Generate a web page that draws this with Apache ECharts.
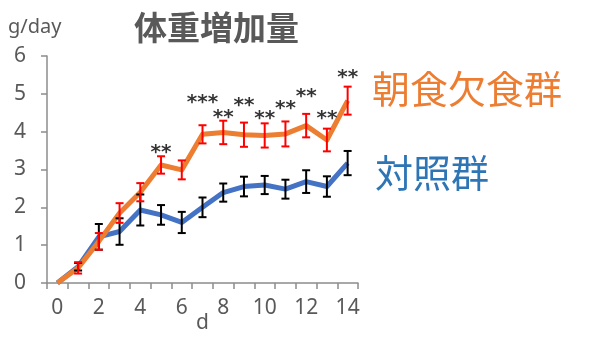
<!DOCTYPE html>
<html><head><meta charset="utf-8">
<script src="https://cdn.jsdelivr.net/npm/echarts@6/dist/echarts.min.js"></script>
<style>html,body{margin:0;padding:0;background:#fff}#c{width:590px;height:356px}</style>
</head><body><div id="c"></div>
<script>
const days = ['0','1','2','3','4','5','6','7','8','9','10','11','12','13','14'];
const skipMean = [0, 0.40, 1.10, 1.85, 2.40, 3.12, 2.99, 3.93, 3.98, 3.92, 3.90, 3.94, 4.16, 3.78, 4.82];
const skipErr  = [0, 0.15, 0.22, 0.26, 0.24, 0.23, 0.25, 0.24, 0.31, 0.32, 0.32, 0.33, 0.31, 0.30, 0.37];
const ctrlMean = [0, 0.43, 1.22, 1.36, 1.93, 1.80, 1.60, 2.00, 2.39, 2.55, 2.59, 2.48, 2.68, 2.55, 3.17];
const ctrlErr  = [0, 0.10, 0.34, 0.35, 0.41, 0.26, 0.28, 0.26, 0.24, 0.26, 0.24, 0.25, 0.30, 0.27, 0.32];
const starText = ['', '', '', '', '', '**', '', '***', '**', '**', '**', '**', '**', '**', '**'];
const starY    = [0, 0, 0, 0, 0, 3.57, 0, 4.89, 4.50, 4.81, 4.47, 4.74, 5.05, 4.47, 5.56];
const yTicks = [0, 1, 2, 3, 4, 5, 6];
const titleText = '体重増加量';
const yUnit = 'g/day';
const skipName = '朝食欠食群';
const ctrlName = '対照群';

const chart = echarts.init(document.getElementById('c'));
const axisGray = '#8c8c8c';
const textGray = '#595959';
const font = '"Noto Sans", "Noto Sans CJK JP", sans-serif';

function errData(mean, err) {
  return mean.map((m, i) => [i, m - err[i], m + err[i]]).filter(d => d[2] - d[1] > 0);
}
function errSeries(mean, err, color) {
  return {
    type: 'custom',
    z: 5,
    data: errData(mean, err),
    renderItem: function (params, api) {
      const x = api.value(0);
      const lo = api.coord([x, api.value(1)]);
      const hi = api.coord([x, api.value(2)]);
      const w = 4;
      const st = { stroke: color, lineWidth: 2 };
      return { type: 'group', children: [
        { type: 'line', shape: { x1: lo[0], y1: lo[1], x2: hi[0], y2: hi[1] }, style: st },
        { type: 'line', shape: { x1: lo[0] - w, y1: lo[1], x2: lo[0] + w, y2: lo[1] }, style: st },
        { type: 'line', shape: { x1: hi[0] - w, y1: hi[1], x2: hi[0] + w, y2: hi[1] }, style: st }
      ]};
    }
  };
}

const starData = [];
starText.forEach((t, i) => { if (t) starData.push({ value: [i, starY[i]], name: t }); });

chart.setOption({
  animation: false,
  backgroundColor: '#fff',
  grid: { left: 47, right: 232, top: 56, bottom: 73 },
  xAxis: {
    type: 'category',
    data: days,
    boundaryGap: true,
    name: 'd',
    nameLocation: 'middle',
    nameGap: 30,
    nameMoveOverlap: false,
    nameTextStyle: { color: textGray, fontSize: 21, fontFamily: font },
    axisLine: { lineStyle: { color: axisGray, width: 1.5 } },
    axisTick: { show: true, interval: 0, length: 6, lineStyle: { color: axisGray, width: 1.5 } },
    axisLabel: { interval: 1, color: textGray, fontSize: 21, fontFamily: font, margin: 15 }
  },
  yAxis: {
    type: 'value',
    min: 0, max: 6, interval: 1,
    axisLine: { show: true, lineStyle: { color: axisGray, width: 1.5 } },
    axisTick: { show: true, length: 6, lineStyle: { color: axisGray, width: 1.5 } },
    splitLine: { show: false },
    axisLabel: { color: textGray, fontSize: 21, fontFamily: font, margin: 21,
      formatter: v => (yTicks.indexOf(v) >= 0 ? String(v) : '') }
  },
  graphic: [
    { type: 'text', left: 8, top: 17, style: { text: yUnit, fill: textGray, font: '20px "Noto Sans"' } },
    { type: 'text', left: 134, top: 11, style: { text: titleText, fill: textGray, font: 'bold 33px "Noto Sans CJK JP"' } },
    { type: 'text', left: 372, top: 70, style: { text: skipName, fill: '#ED7D31', font: '38px "Noto Sans CJK JP"' } },
    { type: 'text', left: 375, top: 154, style: { text: ctrlName, fill: '#2E75B6', font: '38px "Noto Sans CJK JP"' } }
  ],
  series: [
    { type: 'line', data: ctrlMean, symbol: 'none', z: 2,
      lineStyle: { color: '#4472C4', width: 5, join: 'round' } },
    errSeries(ctrlMean, ctrlErr, '#000000'),
    { type: 'line', data: skipMean, symbol: 'none', z: 3,
      lineStyle: { color: '#ED7D31', width: 5, join: 'round' } },
    errSeries(skipMean, skipErr, '#FF0000'),
    { type: 'scatter', data: starData, symbolSize: 1, itemStyle: { color: 'rgba(0,0,0,0)' }, z: 6,
      label: { show: true, position: 'inside', formatter: p => p.name, color: '#000',
        fontSize: 20, fontWeight: 'bold', fontFamily: '"DejaVu Sans"', offset: [0, 5] } }
  ]
});
</script></body></html>
